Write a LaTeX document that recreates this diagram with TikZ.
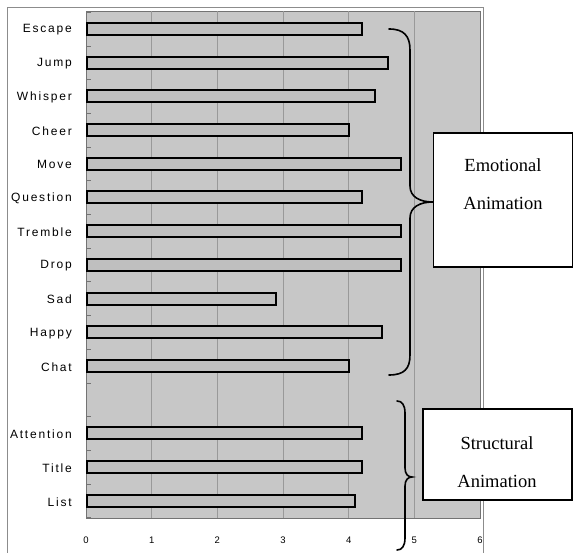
\documentclass[tikz,border=0pt]{standalone}
\usepackage{fontspec}
\setmainfont{Liberation Serif}
\newfontfamily\labfont[LetterSpace=15]{Liberation Sans}
\newfontfamily\axfont{Liberation Sans}
\tikzset{
  catlabel/.style={font=\labfont\fontsize{12}{14}\selectfont, anchor=east, inner sep=0pt},
  axlabel/.style={font=\axfont\fontsize{9.5}{11}\selectfont, inner sep=0pt},
  barbox/.style={draw=black, line width=2pt, fill=black!25},
  gridline/.style={draw=black!40, line width=0.8pt},
  framebox/.style={draw=black!45, line width=0.6pt},
  anibox/.style={draw=black, line width=1.4pt, fill=white, inner sep=0pt},
  anitext/.style={font=\fontsize{18.5}{38}\selectfont, align=center, inner sep=0pt},
  bracepath/.style={draw=black, line width=1.6pt, line cap=round},
}
\begin{document}
\begin{tikzpicture}[x=1pt,y=-1pt]
\useasboundingbox (0,0) rectangle (573,553);
\fill[white] (0,0) rectangle (573,553);
% outer frame
\draw[framebox] (7,553) -- (7,7) -- (483,7) -- (483,553);
% plot area
\fill[black!22] (86,11) rectangle (480,518);
\draw[black!55, line width=0.6pt] (86,11) rectangle (480,518);
% grid lines
\foreach \k in {1,...,5} {
  \draw[gridline] ({86+\k*65.67},11) -- ({86+\k*65.67},518);
}
% axis labels
\foreach \k in {0,...,6} {
  \node[axlabel] (ax\k) at ({86+\k*65.67},540) {\k};
}
% category ticks
\foreach \i in {0,...,15} {
  \draw[black!55, line width=0.6pt] (86,{12.15+\i*33.7}) -- (91,{12.15+\i*33.7});
}
% bars
\foreach \name/\val/\i in {Escape/4.2/0, Jump/4.6/1, Whisper/4.4/2, Cheer/4.0/3, Move/4.8/4, Question/4.2/5, Tremble/4.8/6, Drop/4.8/7, Sad/2.9/8, Happy/4.5/9, Chat/4.0/10, Attention/4.2/12, Title/4.2/13, List/4.1/14} {
  \pgfmathsetmacro\yc{29+\i*33.7}
  \node[catlabel] (lab\i) at (72,\yc+1) {\name};
  \draw[barbox] (87,\yc-6) rectangle ({86+\val*65.67},\yc+6);
}
% boxes
\node[anibox, minimum width=139pt, minimum height=134pt] (emo) at (503,200) {};
\node[anitext] (emotxt) at (503,184) {Emotional\\Animation};
\node[anibox, minimum width=149pt, minimum height=91pt] (str) at (497.5,454.5) {};
\node[anitext] (strtxt) at (497,462) {Structural\\Animation};
% braces
\coordinate (etop) at (389,29);
\coordinate (ebot) at (389,375);
\coordinate (stop) at (397,401);
\coordinate (sbot) at (397,550);
\draw[bracepath] (etop) .. controls (404,29) and (410,36) .. (410,50) -- (410,186)
  .. controls (410,197) and (420,202) .. (emo.west |- 0,202)
  .. controls (420,202) and (410,207) .. (410,218) -- (410,355)
  .. controls (410,369) and (404,375) .. (ebot);
\draw[bracepath] (stop) .. controls (402,401) and (405,405) .. (405,413) -- (405,468)
  .. controls (405,474) and (408,477) .. (412,477)
  .. controls (408,477) and (405,480) .. (405,486) -- (405,538)
  .. controls (405,546) and (402,550) .. (sbot);
\end{tikzpicture}
\end{document}
